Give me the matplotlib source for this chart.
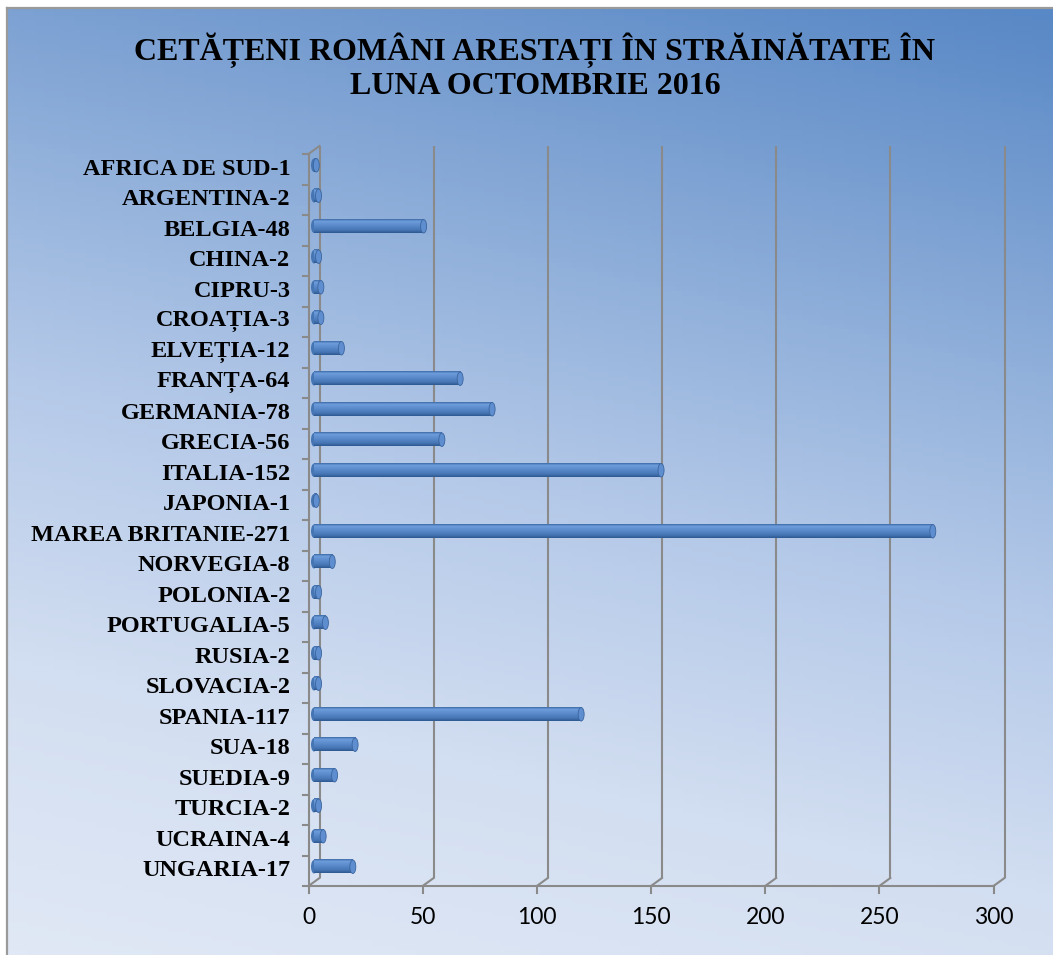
import numpy as np
import matplotlib
matplotlib.use("Agg")
import matplotlib.pyplot as plt
from matplotlib.colors import LinearSegmentedColormap
from matplotlib.patches import Ellipse
from matplotlib.lines import Line2D

# ---------------- data ----------------
countries = ["AFRICA DE SUD", "ARGENTINA", "BELGIA", "CHINA", "CIPRU", "CROAȚIA",
             "ELVEȚIA", "FRANȚA", "GERMANIA", "GRECIA", "ITALIA", "JAPONIA",
             "MAREA BRITANIE", "NORVEGIA", "POLONIA", "PORTUGALIA", "RUSIA",
             "SLOVACIA", "SPANIA", "SUA", "SUEDIA", "TURCIA", "UCRAINA", "UNGARIA"]
arrests = [1, 2, 48, 2, 3, 3, 12, 64, 78, 56, 152, 1, 271, 8, 2, 5, 2, 2, 117,
           18, 9, 2, 4, 17]
xticks = [0, 50, 100, 150, 200, 250, 300]
title = "CETĂȚENI ROMÂNI ARESTAȚI ÎN STRĂINĂTATE ÎN\nLUNA OCTOMBRIE 2016"

W, H = 1053, 955
fig = plt.figure(figsize=(W / 100, H / 100), dpi=100)
fig.patch.set_facecolor("white")

# ---------------- background gradient ----------------
bg = fig.add_axes([7 / W, 0, 1 - 7 / W, 1 - 8 / H])
bg.set_axis_off()
ny, nx = 200, 200
yy, xx = np.mgrid[0:1:ny * 1j, 0:1:nx * 1j]   # yy: 0 at top
s = 0.8 * (1 - yy) + 0.2 * xx
bg_cmap = LinearSegmentedColormap.from_list(
    "bg", [(0.0, "#E0E8F5"), (0.25, "#D2DEF1"), (0.5, "#B3C8E8"),
           (0.78, "#80A4D4"), (1.0, "#5888C6")])
bg.imshow(s, cmap=bg_cmap, vmin=0, vmax=1, aspect="auto", extent=(0, 1, 0, 1),
          origin="upper")
bg.set_xlim(0, 1)
bg.set_ylim(0, 1)
fig.add_artist(Line2D([7 / W, 7 / W], [0, 1 - 8 / H], color="#9A9A9A", lw=1.6))
fig.add_artist(Line2D([7 / W, 1], [1 - 8 / H, 1 - 8 / H], color="#9A9A9A", lw=1.6))

# ---------------- main axes (middle depth plane) ----------------
ax = fig.add_axes([314 / W, (H - 882) / H, 685 / W, 732 / H])
ax.set_axis_off()
n = len(countries)
ax.set_xlim(0, 300)
ax.set_ylim(n - 0.5, -0.5)

px_x = 685 / 300.0       # pixels per x unit
px_y = 732 / n           # pixels per row
DX = 11 / px_x           # depth offset in data units
DY = 8 / px_y
grid_c = "#8A8A8A"
glw = 1.5

top, bot = -0.5, n - 0.5
for t in xticks:
    ax.plot([t + DX / 2, t + DX / 2], [top - DY / 2, bot - DY / 2], color=grid_c,
            lw=glw, clip_on=False, zorder=1, solid_capstyle="butt")
    ax.plot([t + DX / 2, t - DX / 2], [bot - DY / 2, bot + DY / 2], color=grid_c,
            lw=glw, clip_on=False, zorder=1)
    ax.plot([t - DX / 2, t - DX / 2], [bot + DY / 2, bot + DY / 2 + 7 / px_y],
            color=grid_c, lw=glw, clip_on=False, zorder=1)
    ax.annotate(str(t), xy=(t - DX / 2, bot + DY / 2), xytext=(0, -23),
                textcoords="offset points", ha="center", va="center",
                fontsize=16.5, family="Lato", color="black", annotation_clip=False)

ax.plot([0 - DX / 2, 300 - DX / 2], [bot + DY / 2, bot + DY / 2], color=grid_c,
        lw=glw, clip_on=False, zorder=1)
ax.plot([-DX / 2, -DX / 2], [top + DY / 2, bot + DY / 2], color=grid_c, lw=glw,
        clip_on=False, zorder=1)
ax.plot([-DX / 2, DX / 2], [top + DY / 2, top - DY / 2], color=grid_c, lw=glw,
        clip_on=False, zorder=1)
for k in range(n + 1):
    yb = k - 0.5 + DY / 2
    ax.plot([-DX / 2, -DX / 2 - 6 / px_x], [yb, yb], color=grid_c, lw=glw,
            clip_on=False, zorder=1)

for k, (c, v) in enumerate(zip(countries, arrests)):
    ax.annotate(f"{c}-{v}", xy=(-DX / 2, k + DY / 2), xytext=(-13, 0),
                textcoords="offset points", ha="right", va="center",
                fontsize=17.5, family="Liberation Serif", fontweight="bold",
                color="black", annotation_clip=False)

# ---------------- cylinder bars ----------------
bar_cmap = LinearSegmentedColormap.from_list(
    "bar", [(0.0, "#3C6AA6"), (0.15, "#6E9DDB"), (0.45, "#5B8BCC"),
            (0.8, "#4675B4"), (1.0, "#2D5890")])
grad = np.linspace(0, 1, 64).reshape(-1, 1)
bh = 13.5 / px_y
cw = 6 / px_x
for k, v in enumerate(arrests):
    ax.add_patch(Ellipse((0, k), cw, bh, facecolor="#4675B4", edgecolor="none",
                         zorder=2.5, clip_on=False))
    ax.imshow(grad, cmap=bar_cmap, extent=(0, v, k + bh / 2, k - bh / 2),
              aspect="auto", origin="upper", zorder=3, interpolation="bilinear")
    ax.add_patch(Ellipse((v, k), cw, bh, facecolor="#5F8ED0", edgecolor="#3A659E",
                         lw=0.6, zorder=4, clip_on=False))

ax.set_xlim(0, 300)
ax.set_ylim(n - 0.5, -0.5)

# ---------------- title ----------------
fig.text(535 / W, 1 - 67 / H, title, ha="center", va="center", fontsize=23,
         family="Liberation Serif", fontweight="bold", linespacing=1.2)

fig.savefig("out.png", dpi=100)
